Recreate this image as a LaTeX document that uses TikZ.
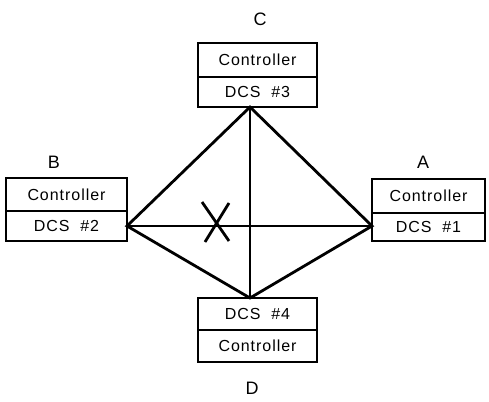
\documentclass[tikz,border=0pt]{standalone}
\usepackage{fontspec}
\newfontfamily\labfont[LetterSpace=6]{Liberation Sans}
\begin{document}
\begin{tikzpicture}[x=1pt,y=-1pt,
  cell/.style={draw,line width=2.8pt,rectangle,inner sep=0pt,outer sep=0pt,
    font=\labfont\fontsize{16}{18}\selectfont},
  tag/.style={font=\labfont\fontsize{18}{20}\selectfont,inner sep=0pt},
  link/.style={line width=2.8pt},
  thin/.style={line width=1.9pt}]
\useasboundingbox (0,0) rectangle (489,401);
% box C
\node[cell,minimum width=119pt,minimum height=34pt] (c1) at (257.5,60) {Controller};
\node[cell,minimum width=119pt,minimum height=30pt] (c2) at (257.5,92) {DCS\ \ \#3};
% box B
\node[cell,minimum width=121pt,minimum height=33pt] (b1) at (66.5,194.5) {Controller};
\node[cell,minimum width=121pt,minimum height=30pt] (b2) at (66.5,226) {DCS\ \ \#2};
% box A
\node[cell,minimum width=113pt,minimum height=34pt] (a1) at (428.5,196) {Controller};
\node[cell,minimum width=113pt,minimum height=28pt] (a2) at (428.5,227) {DCS\ \ \#1};
% box D
\node[cell,minimum width=119pt,minimum height=32pt] (d1) at (257.5,314) {DCS\ \ \#4};
\node[cell,minimum width=119pt,minimum height=32pt] (d2) at (257.5,346) {Controller};
% labels
\node[tag] (lc) at (260,19) {C};
\node[tag] (lb) at (54,162) {B};
\node[tag] (la) at (423,162) {A};
\node[tag] (ld) at (252,388) {D};
% connection points
\coordinate (cp) at (250,107);
\coordinate (dp) at (250,298);
\coordinate (bp) at (127,226);
\coordinate (ap) at (372,226);
% links
\draw[link] (bp) -- (cp) -- (ap) -- (dp) -- cycle;
\draw[thin] (cp) -- (dp);
\draw[thin] (bp) -- (ap);
% break mark on link B-A
\coordinate (x1) at (202,202);
\coordinate (x2) at (229,241);
\coordinate (x3) at (229,203);
\coordinate (x4) at (205,242);
\draw[link] (x1) -- (x2);
\draw[link] (x3) -- (x4);
\end{tikzpicture}
\end{document}
